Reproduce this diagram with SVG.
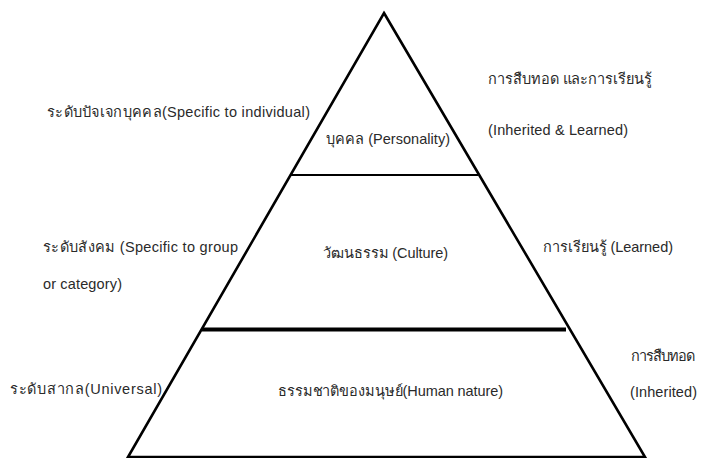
<svg xmlns="http://www.w3.org/2000/svg" width="702" height="458" viewBox="0 0 702 458">
<style>
.t{font-family:"Liberation Sans","Noto Sans","DejaVu Sans",sans-serif;font-size:14.5px;fill:#2a2a2a}
.side{fill:none;stroke:#000;stroke-width:2.6;stroke-linejoin:miter}
.div1{stroke:#000;stroke-width:2.2}
.div2{stroke:#000;stroke-width:4}
</style>
<rect width="702" height="458" fill="#fff"/>
<g id="pyramid">
<polygon class="side" points="384,13 645,457 128,457"/>
<line class="div1" x1="291" y1="175" x2="478" y2="175"/>
<line class="div2" x1="202" y1="329.5" x2="566" y2="329.5"/>
</g>
<g id="level-personality">
<text class="t" x="326" y="144" textLength="124">บุคคล (Personality)</text>
<text class="t" x="47" y="117" textLength="263">ระดับปัจเจกบุคคล(Specific to individual)</text>
<text class="t" x="488" y="84" textLength="164">การสืบทอด และการเรียนรู้</text>
<text class="t" x="488" y="135" textLength="140">(Inherited &amp; Learned)</text>
</g>
<g id="level-culture">
<text class="t" x="323" y="258" textLength="125">วัฒนธรรม (Culture)</text>
<text class="t" x="43" y="252" textLength="195">ระดับสังคม (Specific to group</text>
<text class="t" x="43" y="289" textLength="79">or category)</text>
<text class="t" x="543" y="252" textLength="130">การเรียนรู้ (Learned)</text>
</g>
<g id="level-human-nature">
<text class="t" x="278" y="396" textLength="225">ธรรมชาติของมนุษย์(Human nature)</text>
<text class="t" x="10" y="394" textLength="152">ระดับสากล(Universal)</text>
<text class="t" x="631" y="361" textLength="64">การสืบทอด</text>
<text class="t" x="630" y="397" textLength="67">(Inherited)</text>
</g>
</svg>
